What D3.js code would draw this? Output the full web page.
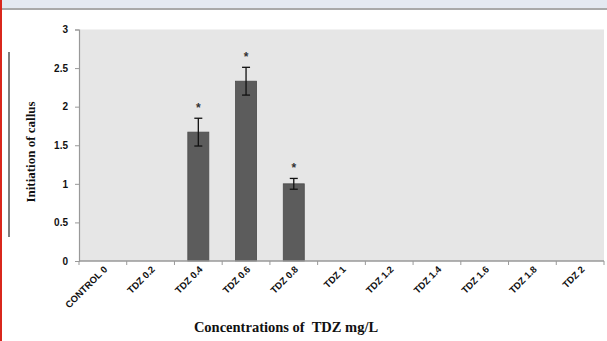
<!DOCTYPE html>
<html>
<head>
<meta charset="utf-8">
<script src="https://cdn.jsdelivr.net/npm/d3@7"></script>
<style>
  html, body { margin: 0; padding: 0; background: #fff; }
  svg { display: block; }
  text { white-space: pre; }
</style>
</head>
<body>
<svg id="chart" width="607" height="341"></svg>
<script>
// Callus initiation by TDZ concentration (mean ± error)
const categories = ["CONTROL 0", "TDZ 0.2", "TDZ 0.4", "TDZ 0.6", "TDZ 0.8", "TDZ 1",
                    "TDZ 1.2", "TDZ 1.4", "TDZ 1.6", "TDZ 1.8", "TDZ 2"];
const values = [0, 0, 1.67, 2.33, 1.0, 0, 0, 0, 0, 0, 0];
const errors = [0, 0, 0.18, 0.18, 0.07, 0, 0, 0, 0, 0, 0];
const significant = [false, false, true, true, true, false, false, false, false, false, false];
const yTicks = [0, 0.5, 1, 1.5, 2, 2.5, 3];

const svg = d3.select("#chart");
const W = 607, H = 341;
const margin = { left: 79, right: 3, top: 29.5, bottom: 80 };
const sans = "Liberation Sans, Arial, sans-serif";
const serif = "Liberation Serif, Times New Roman, serif";

// page frame: header strip, rule and red edge
svg.append("rect").attr("x", 0).attr("y", 0).attr("width", W).attr("height", 9).attr("fill", "#e4e9f1");
svg.append("rect").attr("x", 0).attr("y", 8).attr("width", W).attr("height", 2).attr("fill", "#a9a9a9");
svg.append("rect").attr("x", 0).attr("y", 0).attr("width", 2).attr("height", H).attr("fill", "#d9271c");
svg.append("rect").attr("x", 8).attr("y", 52).attr("width", 2).attr("height", 185).attr("fill", "#7f7f7f");

const x = d3.scaleBand().domain(categories)
  .range([margin.left, W - margin.right]).paddingInner(0.56).paddingOuter(0.28);
const y = d3.scaleLinear().domain([0, 3]).range([261, margin.top]);

// plot area
svg.append("rect")
  .attr("x", margin.left).attr("y", y(3))
  .attr("width", W - margin.right - margin.left).attr("height", y(0) - y(3))
  .attr("fill", "#e6e6e6");

// bars
svg.append("g").selectAll("rect")
  .data(categories.map((c, i) => ({ c, v: values[i] })).filter(d => d.v > 0))
  .join("rect")
  .attr("x", d => x(d.c)).attr("y", d => y(d.v))
  .attr("width", x.bandwidth()).attr("height", d => y(0) - y(d.v))
  .attr("fill", "#5c5c5c").attr("stroke", "#4a4a4a").attr("stroke-width", 0.8);

// error bars and significance marks
const eg = svg.append("g").attr("stroke", "#111").attr("stroke-width", 1.3);
categories.forEach((c, i) => {
  if (values[i] <= 0) return;
  const cx = x(c) + x.bandwidth() / 2;
  const hi = y(values[i] + errors[i]), lo = y(values[i] - errors[i]);
  eg.append("line").attr("x1", cx).attr("x2", cx).attr("y1", hi).attr("y2", lo);
  eg.append("line").attr("x1", cx - 4).attr("x2", cx + 4).attr("y1", hi).attr("y2", hi);
  eg.append("line").attr("x1", cx - 4).attr("x2", cx + 4).attr("y1", lo).attr("y2", lo);
  if (significant[i]) {
    svg.append("text").attr("x", cx).attr("y", hi - 6)
      .attr("text-anchor", "middle")
      .attr("font-family", sans)
      .attr("font-size", 12).attr("font-weight", "bold").attr("fill", "#333")
      .text("*");
  }
});

// y axis
const yAxis = svg.append("g").attr("transform", `translate(${margin.left},0)`)
  .call(d3.axisLeft(y).tickValues(yTicks).tickSize(4).tickPadding(7).tickFormat(d3.format("")));
yAxis.select(".domain").attr("stroke", "#999").attr("stroke-width", 1.2);
yAxis.selectAll(".tick line").attr("stroke", "#999");
yAxis.selectAll("text")
  .attr("font-family", sans)
  .attr("font-size", 10).attr("font-weight", "bold").attr("fill", "#111");

// x axis with tick marks at category boundaries
const xg = svg.append("g");
xg.append("line").attr("x1", margin.left).attr("x2", W - margin.right)
  .attr("y1", y(0)).attr("y2", y(0)).attr("stroke", "#999").attr("stroke-width", 1.6);
d3.range(categories.length + 1).forEach(k => {
  const tx = margin.left + k * (W - margin.right - margin.left) / categories.length;
  xg.append("line").attr("x1", tx).attr("x2", tx).attr("y1", y(0)).attr("y2", y(0) + 4)
    .attr("stroke", "#999");
});
xg.selectAll("text.cat").data(categories).join("text")
  .attr("class", "cat")
  .attr("text-anchor", "end")
  .attr("transform", d => `translate(${x(d) + x.bandwidth() / 2 + 5},${y(0) + 9}) rotate(-45)`)
  .attr("font-family", sans)
  .attr("font-size", 9.5).attr("font-weight", "bold").attr("fill", "#111")
  .text(d => d);

// axis titles
svg.append("text")
  .attr("transform", `translate(35,152) rotate(-90)`)
  .attr("text-anchor", "middle")
  .attr("font-family", serif)
  .attr("font-size", 13).attr("font-weight", "bold").attr("fill", "#111")
  .text("Initiation of callus");
svg.append("text")
  .attr("x", 286).attr("y", 332)
  .attr("text-anchor", "middle")
  .attr("font-family", serif)
  .attr("font-size", 14.5).attr("font-weight", "bold").attr("fill", "#111")
  .text("Concentrations of  TDZ mg/L");
</script>
</body>
</html>
